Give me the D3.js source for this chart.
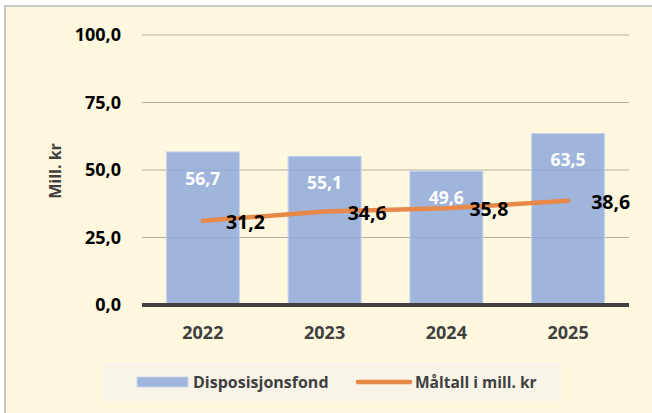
<!DOCTYPE html>
<html><head><meta charset="utf-8">
<script src="https://cdn.jsdelivr.net/npm/d3@7"></script>
<style>body{margin:0;background:#fff;} svg{display:block;}</style>
</head><body>
<svg id="c" width="652" height="413"></svg>
<script>
const categories = ["2022", "2023", "2024", "2025"];
const fondValues = [56.7, 55.1, 49.6, 63.5];
const maltallValues = [31.2, 34.6, 35.8, 38.6];
const yTicks = [0, 25, 50, 75, 100];
const seriesNames = ["Disposisjonsfond", "Måltall i mill. kr"];
const yTitle = "Mill. kr";

const FONT = "'Open Sans', sans-serif";
const fmt = v => d3.format(".1f")(v).replace(".", ",");

const svg = d3.select("#c");
svg.append("rect").attr("x", 5).attr("y", 6).attr("width", 660).attr("height", 420)
  .attr("fill", "#FFF8DF").attr("stroke", "#C8C8C8").attr("stroke-width", 2);

const m = {left: 142, right: 629, top: 35, bottom: 305};
const x = d3.scaleBand().domain(categories).range([m.left, m.right]).paddingInner(0.4).paddingOuter(0.2);
const y = d3.scaleLinear().domain([0, 100]).range([m.bottom, m.top]);

// gridlines
svg.append("g").selectAll("line").data(yTicks.filter(t => t > 0)).join("line")
  .attr("x1", m.left).attr("x2", m.right)
  .attr("y1", d => y(d)).attr("y2", d => y(d))
  .attr("stroke", "#B5AE9C").attr("stroke-width", 1.2);

// y tick labels
svg.append("g").selectAll("text").data(yTicks).join("text")
  .attr("x", 121).attr("y", d => y(d)).attr("dy", "0.36em")
  .attr("text-anchor", "end").attr("font-family", FONT).attr("font-weight", "bold")
  .attr("font-size", 18).attr("fill", "#000").text(d => fmt(d));

// y title
svg.append("text").attr("transform", `translate(61,${(m.top + m.bottom) / 2 + 1}) rotate(-90)`)
  .attr("text-anchor", "middle").attr("font-family", FONT).attr("font-weight", "bold")
  .attr("font-size", 16).attr("fill", "#404040").text(yTitle);

// bars
svg.append("g").selectAll("rect").data(categories).join("rect")
  .attr("x", d => x(d)).attr("width", x.bandwidth())
  .attr("y", (d, i) => y(fondValues[i])).attr("height", (d, i) => y(0) - y(fondValues[i]))
  .attr("fill", "#8FA9DC").attr("fill-opacity", 0.85)
  .attr("stroke", "#C9D6EF").attr("stroke-width", 1);

// bar labels
svg.append("g").selectAll("text").data(categories).join("text")
  .attr("x", d => x(d) + x.bandwidth() / 2).attr("y", (d, i) => y(fondValues[i]) + 26.5)
  .attr("dy", "0.36em").attr("text-anchor", "middle")
  .attr("font-family", FONT).attr("font-weight", "bold").attr("font-size", 17.5)
  .attr("fill", "#fff").text((d, i) => fmt(fondValues[i]));

// x axis line
svg.append("line").attr("x1", m.left).attr("x2", m.right).attr("y1", y(0)).attr("y2", y(0))
  .attr("stroke", "#404040").attr("stroke-width", 4);

// x labels
svg.append("g").selectAll("text").data(categories).join("text")
  .attr("x", d => x(d) + x.bandwidth() / 2).attr("y", 333).attr("dy", "0.36em")
  .attr("text-anchor", "middle").attr("font-family", FONT).attr("font-weight", "bold")
  .attr("font-size", 18).attr("fill", "#404040").text(d => d);

// line
const line = d3.line().x((d, i) => x(categories[i]) + x.bandwidth() / 2).y(d => y(d));
svg.append("path").datum(maltallValues).attr("d", line).attr("fill", "none")
  .attr("stroke", "#E8894A").attr("stroke-width", 4.5).attr("stroke-linecap", "round");

// line labels
svg.append("g").selectAll("text").data(maltallValues).join("text")
  .attr("x", (d, i) => x(categories[i]) + x.bandwidth() / 2 + 23).attr("y", d => y(d) + 1)
  .attr("dy", "0.36em").attr("font-family", FONT).attr("font-weight", "bold")
  .attr("font-size", 19.5).attr("fill", "#000").text(d => fmt(d));

// legend
const lg = svg.append("g");
lg.append("rect").attr("x", 103).attr("y", 362).attr("width", 458).attr("height", 39).attr("fill", "#F8F5E8");
lg.append("rect").attr("x", 137).attr("y", 377).attr("width", 51).attr("height", 10)
  .attr("fill", "#8FA9DC").attr("fill-opacity", 0.85).attr("stroke", "#C9D6EF").attr("stroke-width", 1);
lg.append("text").attr("x", 193).attr("y", 382).attr("dy", "0.36em").attr("font-family", FONT)
  .attr("font-weight", "bold").attr("font-size", 16).attr("fill", "#404040").text(seriesNames[0]);
lg.append("line").attr("x1", 358).attr("x2", 410).attr("y1", 382).attr("y2", 382)
  .attr("stroke", "#E8894A").attr("stroke-width", 4.5).attr("stroke-linecap", "round");
lg.append("text").attr("x", 415).attr("y", 382).attr("dy", "0.36em").attr("font-family", FONT)
  .attr("font-weight", "bold").attr("font-size", 15.5).attr("fill", "#404040").text(seriesNames[1]);
</script>
</body></html>
